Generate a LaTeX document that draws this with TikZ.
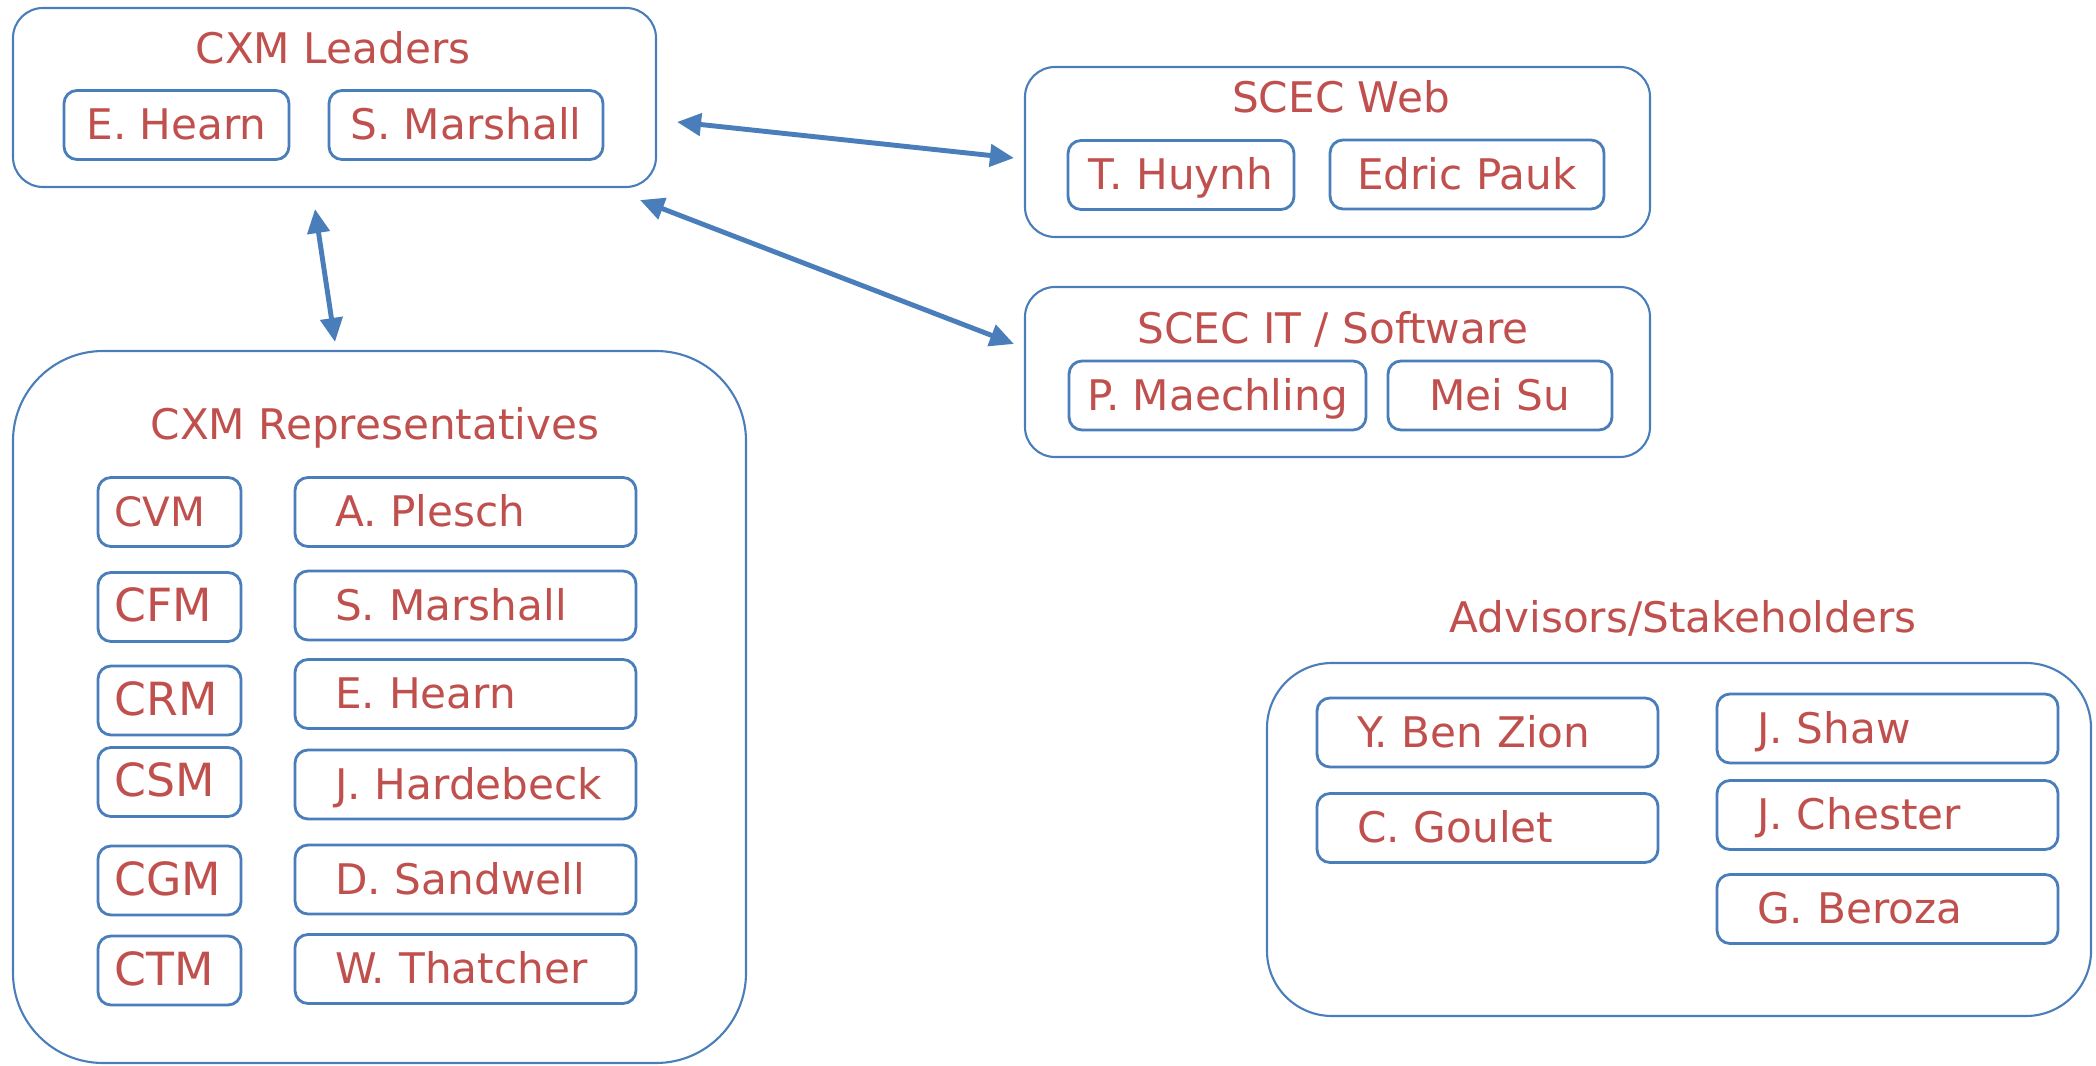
\documentclass[tikz,border=0pt]{standalone}
\usepackage{fontspec}
\setmainfont{DejaVu Sans}
\usetikzlibrary{arrows.meta, positioning, calc}

\definecolor{boxblue}{HTML}{4A7EBB}
\definecolor{namered}{HTML}{C0504D}

\begin{document}
\begin{tikzpicture}[
    group/.style={rectangle, draw=boxblue, line width=0.6pt, rounded corners=#1},
    group/.default=3mm,
    heading/.style={text=namered, font=\fontsize{12}{14}\selectfont, text height=11pt, text depth=2.5pt, inner sep=0pt},
    member/.style={rectangle, draw=boxblue, line width=0.8pt, rounded corners=1.3mm, minimum height=0.69cm, inner ysep=0pt, text=namered, font=\fontsize{12}{14}\selectfont, text height=11pt, text depth=2.5pt, align=center},
    padded/.style={member, text width=2.61cm, align=left, inner xsep=0.4cm},
    model/.style={member, text width=1.1cm, align=left, inner xsep=0.165cm, font=\fontsize{13}{15}\selectfont},
    arrow/.style={<->, line width=1.4pt, draw=boxblue, >={Triangle[length=2.4mm, width=2.2mm]}}
]
\useasboundingbox (0,0) rectangle (20.96,-10.66);

% CXM Leaders
\node[group, minimum width=6.43cm, minimum height=1.79cm] (leaders) at (3.345,-0.975) {};
\node[heading] (leaders_title) at (3.33,-0.49) {CXM Leaders};
\node[member, minimum width=2.25cm] (ldr_hearn) at (1.765,-1.25) {E. Hearn};
\node[member, minimum width=2.74cm] (ldr_marshall) at (4.66,-1.25) {S. Marshall};

% SCEC Web
\node[group, minimum width=6.25cm, minimum height=1.70cm] (web) at (13.375,-1.52) {};
\node[heading] (web_title) at (13.41,-0.975) {SCEC Web};
\node[member, minimum width=2.26cm] (web_huynh) at (11.81,-1.75) {T. Huynh};
\node[member, minimum width=2.74cm] (web_pauk) at (14.67,-1.745) {Edric Pauk};

% SCEC IT / Software
\node[group, minimum width=6.25cm, minimum height=1.70cm] (it) at (13.375,-3.72) {};
\node[heading] (it_title) at (13.33,-3.29) {SCEC IT / Software};
\node[member, minimum width=2.97cm] (it_maechling) at (12.175,-3.955) {P. Maechling};
\node[member, minimum width=2.24cm] (it_su) at (15.0,-3.955) {Mei Su};

% CXM Representatives
\node[group=9mm, minimum width=7.33cm, minimum height=7.12cm] (reps) at (3.795,-7.07) {};
\node[heading] (reps_title) at (3.75,-4.25) {CXM Representatives};

\node[model, font=\fontsize{11.5}{14}\selectfont] (cvm) at (1.695,-5.12) {CVM};
\node[model] (cfm) at (1.695,-6.07) {CFM};
\node[model] (crm) at (1.695,-7.005) {CRM};
\node[model] (csm) at (1.695,-7.82) {CSM};
\node[model] (cgm) at (1.695,-8.805) {CGM};
\node[model] (ctm) at (1.695,-9.705) {CTM};

\node[padded] (rep_plesch) at (4.655,-5.12) {A. Plesch};
\node[padded] (rep_marshall) at (4.655,-6.055) {S. Marshall};
\node[padded] (rep_hearn) at (4.655,-6.94) {E. Hearn};
\node[padded] (rep_hardebeck) at (4.655,-7.845) {\mbox{J. Hardebeck}};
\node[padded] (rep_sandwell) at (4.655,-8.795) {D. Sandwell};
\node[padded] (rep_thatcher) at (4.655,-9.69) {W. Thatcher};

% Advisors/Stakeholders
\node[heading] (adv_title) at (16.83,-6.18) {Advisors/Stakeholders};
\node[group=6.5mm, minimum width=8.24cm, minimum height=3.53cm] (advisors) at (16.79,-8.395) {};

\node[padded] (adv_benzion) at (14.875,-7.325) {Y. Ben Zion};
\node[padded] (adv_goulet) at (14.875,-8.28) {C. Goulet};
\node[padded] (adv_shaw) at (18.875,-7.285) {J. Shaw};
\node[padded] (adv_chester) at (18.875,-8.15) {J. Chester};
\node[padded] (adv_beroza) at (18.875,-9.09) {G. Beroza};

% Connections
\draw[arrow] ([shift={(0.2,-0.245)}]leaders.east) -- ([shift={(-0.1,-0.06)}]web.west);
\draw[arrow] ([shift={(-0.17,-0.12)}]leaders.south east) -- ([shift={(-0.1,0.28)}]it.west);
\draw[arrow] ([shift={(-0.195,-0.21)}]leaders.south) -- ([shift={(-0.445,0.08)}]reps.north);

\end{tikzpicture}
\end{document}
